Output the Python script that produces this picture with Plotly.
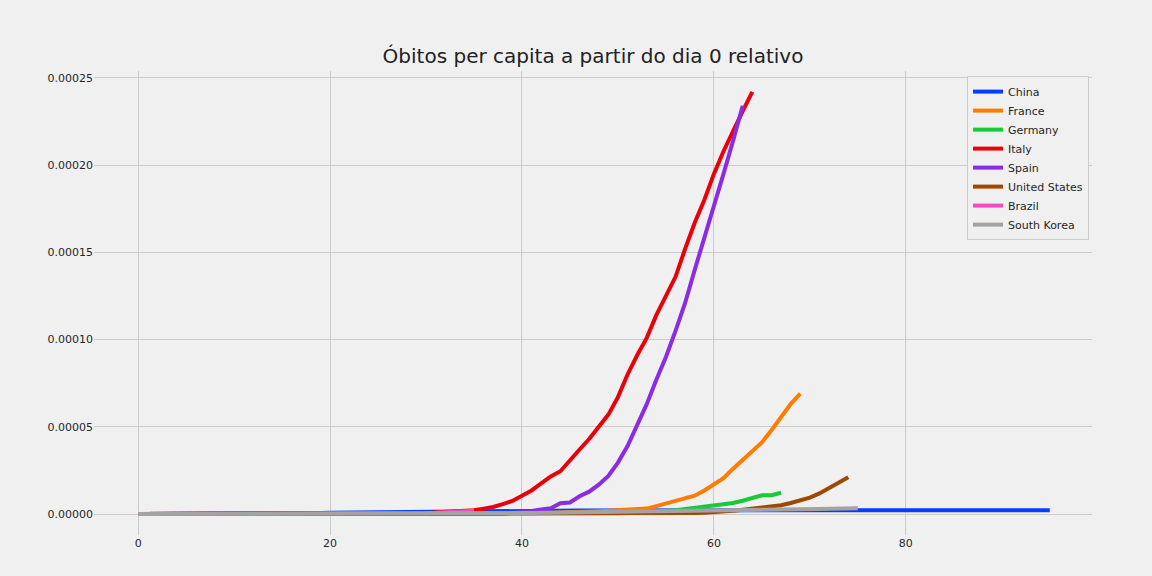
import plotly.graph_objects as go

# Deaths per capita, stored in per-million units (converted below), index = relative day
china = [0.01, 0.02, 0.02, 0.03, 0.04, 0.06, 0.07, 0.09, 0.11, 0.15,
         0.18, 0.21, 0.25, 0.29, 0.34, 0.40, 0.45, 0.51, 0.57, 0.63,
         0.70, 0.77, 0.84, 0.92, 1.00, 1.08, 1.13, 1.26, 1.35, 1.40,
         1.43, 1.53, 1.55, 1.65, 1.71, 1.77, 1.80, 1.83, 1.86, 1.89,
         1.92, 1.94, 1.96, 1.98, 2.00, 2.01, 2.03, 2.04, 2.05, 2.06,
         2.07, 2.08, 2.09, 2.10, 2.10, 2.11, 2.11, 2.12, 2.12, 2.13,
         2.13, 2.14, 2.14, 2.14, 2.15, 2.15, 2.15, 2.15, 2.16, 2.16,
         2.16, 2.16, 2.17, 2.17, 2.17, 2.17, 2.17, 2.18, 2.18, 2.18,
         2.18, 2.18, 2.18, 2.19, 2.19, 2.19, 2.19, 2.19, 2.19, 2.20,
         2.20, 2.20, 2.20, 2.20, 2.20, 2.20]
france = [0, 0, 0, 0, 0, 0, 0, 0, 0, 0,
          0, 0, 0, 0, 0, 0, 0, 0, 0, 0,
          0, 0, 0.015, 0.015, 0.015, 0.015, 0.015, 0.015, 0.015, 0.015,
          0.03, 0.03, 0.03, 0.05, 0.05, 0.06, 0.10, 0.14, 0.19, 0.30,
          0.38, 0.48, 0.60, 0.68, 0.75, 0.90, 1.1, 1.3, 1.6, 1.85,
          2.1, 2.4, 2.8, 3.1, 4.5, 6.0, 7.2, 8.6, 10.5, 13.5,
          17.0, 20.5, 26.0, 31.0, 36.0, 41.0, 48.0, 56.0, 63.0, 69.0]
germany = [0, 0, 0, 0, 0, 0, 0, 0, 0, 0,
           0, 0, 0, 0, 0, 0, 0, 0, 0, 0,
           0, 0, 0, 0, 0, 0, 0, 0, 0, 0,
           0, 0, 0, 0, 0, 0, 0, 0, 0, 0,
           0, 0.01, 0.02, 0.03, 0.05, 0.08, 0.10, 0.15, 0.20, 0.30,
           0.45, 0.60, 0.80, 1.1, 1.4, 1.8, 2.2, 2.8, 3.5, 4.2,
           4.9, 5.5, 6.3, 7.6, 9.2, 10.7, 10.8, 12.2]
italy = [0, 0, 0, 0, 0, 0, 0, 0, 0, 0,
         0, 0, 0, 0, 0, 0, 0, 0, 0, 0,
         0, 0, 0.02, 0.03, 0.05, 0.12, 0.20, 0.28, 0.35, 0.48,
         0.60, 0.86, 1.10, 1.36, 1.70, 2.1, 3.0, 4.0, 5.7, 7.5,
         10.5, 13.5, 17.5, 21.5, 24.5, 31.0, 37.0, 43.0, 50.0, 57.0,
         67.0, 80.0, 91.0, 101.0, 114.0, 125.0, 136.0, 152.0, 167.0, 180.0,
         195.0, 208.0, 220.0, 231.0, 242.0]
spain = [0, 0, 0, 0, 0, 0, 0, 0, 0, 0,
         0, 0, 0, 0, 0, 0, 0, 0, 0, 0,
         0, 0, 0, 0, 0, 0, 0, 0, 0, 0,
         0, 0, 0, 0, 0.02, 0.06, 0.10, 0.20, 0.30, 0.60,
         1.0, 1.7, 2.6, 3.3, 6.2, 6.6, 10.2, 12.8, 16.8, 21.8,
         29.5, 39.0, 51.0, 63.0, 77.0, 90.0, 105.0, 121.0, 140.0, 158.0,
         176.0, 195.0, 214.0, 234.0]
united_states = [0, 0, 0, 0, 0, 0, 0, 0, 0, 0,
                 0, 0, 0, 0, 0, 0, 0, 0, 0, 0,
                 0, 0, 0, 0, 0, 0, 0, 0, 0, 0,
                 0, 0, 0, 0, 0, 0, 0, 0, 0, 0.003,
                 0.003, 0.005, 0.006, 0.008, 0.009, 0.01, 0.015, 0.02, 0.03, 0.04,
                 0.05, 0.06, 0.08, 0.11, 0.15, 0.20, 0.30, 0.40, 0.55, 0.75,
                 1.0, 1.35, 1.8, 2.4, 3.0, 3.6, 4.3, 5.0, 6.3, 7.6,
                 9.4, 11.8, 14.8, 17.8, 21.0]
brazil = [0, 0, 0, 0, 0, 0, 0, 0, 0, 0,
          0, 0, 0, 0, 0, 0, 0, 0, 0, 0,
          0, 0.005, 0.01, 0.02, 0.03, 0.05, 0.10, 0.16, 0.25, 0.36,
          0.50, 0.65, 0.90, 1.2, 1.55, 1.9]
south_korea = [0, 0, 0, 0, 0, 0, 0, 0, 0, 0,
               0, 0, 0, 0, 0, 0, 0, 0, 0, 0,
               0, 0, 0, 0, 0, 0, 0, 0, 0, 0.02,
               0.04, 0.04, 0.12, 0.14, 0.21, 0.23, 0.25, 0.31, 0.33, 0.43,
               0.53, 0.62, 0.68, 0.74, 0.82, 0.94, 0.98, 1.04, 1.08, 1.16,
               1.22, 1.28, 1.40, 1.46, 1.50, 1.56, 1.64, 1.74, 1.80, 1.86,
               1.94, 2.00, 2.08, 2.16, 2.24, 2.32, 2.40, 2.48, 2.58, 2.66,
               2.78, 2.88, 2.98, 3.08, 3.20, 3.30]

countries = ["China", "France", "Germany", "Italy", "Spain",
             "United States", "Brazil", "South Korea"]
series = [china, france, germany, italy, spain, united_states, brazil, south_korea]
colors = ["#023eff", "#ff7c00", "#1ac938", "#e8000b", "#8b2be2",
          "#9f4800", "#f14cc1", "#a3a3a3"]

x_ticks = [0, 20, 40, 60, 80]
y_ticks = [0.0, 0.00005, 0.00010, 0.00015, 0.00020, 0.00025]

FONT = "DejaVu Sans, Liberation Sans, sans-serif"

fig = go.Figure()
for name, vals, col in zip(countries, series, colors):
    fig.add_trace(go.Scatter(
        x=list(range(len(vals))),
        y=[v / 1e6 for v in vals],
        mode="lines",
        name=name,
        line=dict(color=col, width=4),
    ))

fig.update_layout(
    width=1152, height=576,
    paper_bgcolor="#f0f0f0", plot_bgcolor="#f0f0f0",
    margin=dict(l=94, r=60, t=71, b=41),
    font=dict(family=FONT, size=11, color="#262626"),
    title=dict(text="Óbitos per capita a partir do dia 0 relativo",
               x=0.5, xanchor="center", xref="paper",
               y=1 - 56 / 576, yanchor="middle", yref="container",
               font=dict(family=FONT, size=20, color="#222222")),
    xaxis=dict(range=[-4.6, 99.4], tickvals=x_ticks, showgrid=True,
               gridcolor="#cbcbcb", gridwidth=1, zeroline=False, showline=False,
               ticks="", tickfont=dict(size=11, color="#262626")),
    yaxis=dict(range=[-1.204e-5, 2.540e-4], tickvals=y_ticks, tickformat=".5f",
               showgrid=True, gridcolor="#cbcbcb", gridwidth=1, zeroline=False,
               showline=False, ticks="", tickfont=dict(size=11, color="#262626")),
    legend=dict(x=0.997, y=0.989, xanchor="right", yanchor="top",
                bgcolor="#f0f0f0", bordercolor="#cccccc", borderwidth=1,
                font=dict(family=FONT, size=11, color="#262626"),
                tracegroupgap=0),
    showlegend=True,
)

fig.write_html(
    "out.html",
    config={"displayModeBar": False},
    post_script="document.body.style.margin='0px';"
                "document.body.style.background='#f0f0f0';"
                "document.body.style.overflow='hidden';",
)
